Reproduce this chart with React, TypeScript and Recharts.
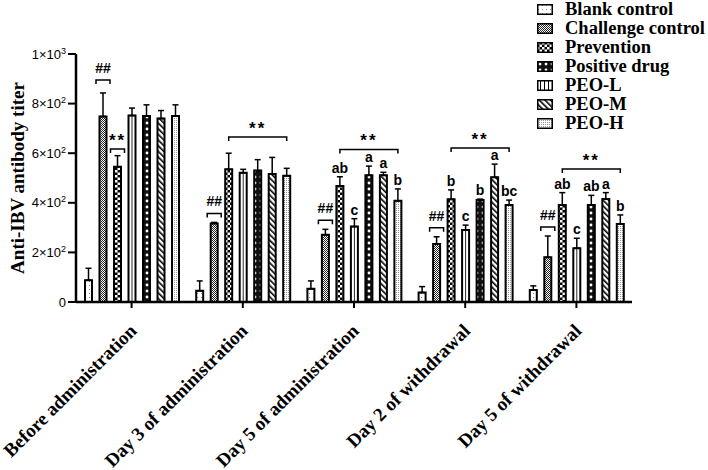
import { BarChart, Bar, XAxis, YAxis, ErrorBar, LabelList } from "recharts"

const CATEGORIES = [
  "Before administration",
  "Day 3 of administration",
  "Day 5 of administration",
  "Day 2 of withdrawal",
  "Day 5 of withdrawal",
]

// mean titers
const BLANK = [88, 45, 53, 38, 48]
const CHALLENGE = [748, 317, 271, 234, 180]
const PREVENTION = [545, 535, 468, 414, 391]
const POSITIVE = [750, 530, 511, 411, 391]
const PEO_L = [752, 521, 304, 290, 217]
const PEO_M = [740, 516, 511, 503, 415]
const PEO_H = [750, 509, 408, 391, 315]

// upper whiskers (SD)
const BLANK_SD = [48, 40, 32, 24, 17]
const CHALLENGE_SD = [95, 4, 22, 29, 86]
const PREVENTION_SD = [45, 65, 37, 38, 50]
const POSITIVE_SD = [45, 44, 37, 4, 39]
const PEO_L_SD = [30, 14, 32, 20, 40]
const PEO_M_SD = [32, 67, 12, 53, 26]
const PEO_H_SD = [45, 30, 48, 20, 36]

// letters of the multiple comparison
const PREVENTION_LETTERS = ["", "", "ab", "b", "ab"]
const POSITIVE_LETTERS = ["", "", "a", "b", "ab"]
const PEO_L_LETTERS = ["", "", "c", "c", "c"]
const PEO_M_LETTERS = ["", "", "a", "a", "a"]
const PEO_H_LETTERS = ["", "", "b", "bc", "b"]
const NO_LETTERS = ["", "", "", "", ""]

// height (titer) of the ** brackets
const STAR_LEVEL = [617, 665, 615, 621, 536]

const Y_TICKS = [0, 200, 400, 600, 800, 1000]
const Y_TICK_LABELS = ["0", "2×10^2", "4×10^2", "6×10^2", "8×10^2", "1×10^3"]

const SERIF = "'Times New Roman', 'Liberation Serif', serif"
const SANS = "Arial, 'Liberation Sans', sans-serif"

const BAR = 7
const GAP = 7.5
const PITCH = BAR + GAP

type Series = {
  key: string
  name: string
  values: number[]
  sd: number[]
  letters: string[]
  fill: string
  icon: string
}

// order of the bars inside a group
const SERIES: Series[] = [
  { key: "blank", name: "Blank control", values: BLANK, sd: BLANK_SD, letters: NO_LETTERS, fill: "url(#pBlank)", icon: "url(#pBlank)" },
  { key: "challenge", name: "Challenge control", values: CHALLENGE, sd: CHALLENGE_SD, letters: NO_LETTERS, fill: "url(#pChallenge)", icon: "url(#pChallenge)" },
  { key: "prevention", name: "Prevention", values: PREVENTION, sd: PREVENTION_SD, letters: PREVENTION_LETTERS, fill: "url(#pPrevention)", icon: "url(#pPrevention)" },
  { key: "peoL", name: "PEO-L", values: PEO_L, sd: PEO_L_SD, letters: PEO_L_LETTERS, fill: "url(#pPeoL)", icon: "url(#pPeoLLeg)" },
  { key: "positive", name: "Positive drug", values: POSITIVE, sd: POSITIVE_SD, letters: POSITIVE_LETTERS, fill: "url(#pPositive)", icon: "url(#pPositive)" },
  { key: "peoM", name: "PEO-M", values: PEO_M, sd: PEO_M_SD, letters: PEO_M_LETTERS, fill: "url(#pPeoM)", icon: "url(#pPeoM)" },
  { key: "peoH", name: "PEO-H", values: PEO_H, sd: PEO_H_SD, letters: PEO_H_LETTERS, fill: "url(#pPeoH)", icon: "url(#pPeoH)" },
]

const LEGEND_ORDER = ["blank", "challenge", "prevention", "positive", "peoL", "peoM", "peoH"]

const data = CATEGORIES.map((name, i) => {
  const row: Record<string, any> = { name }
  SERIES.forEach((s) => {
    row[s.key] = s.values[i]
    row[s.key + "Err"] = [0, s.sd[i]]
  })
  return row
})

function geom(p: any, s: Series, i: number) {
  const vb = p.viewBox || p
  const top = Math.min(vb.y, vb.y + vb.height)
  const h = Math.abs(vb.height)
  const k = h / s.values[i]
  return { x: vb.x, w: vb.width, cx: vb.x + vb.width / 2, top, base: top + h, k, errTop: top - s.sd[i] * k }
}

const letterLabel = (s: Series) => (p: any) => {
  const i = p.index
  const t = s.letters[i]
  if (!t) return null
  const g = geom(p, s, i)
  return (
    <text x={g.cx} y={g.errTop - 4} textAnchor="middle" fontFamily={SANS} fontWeight={700} fontSize={14} fill="#000">
      {t}
    </text>
  )
}

const bracket = (x1: number, x2: number, y: number) => (
  <path d={`M${x1},${y + 4}V${y}H${x2}V${y + 4}`} stroke="#000" strokeWidth={1.5} fill="none" />
)

const hashLabel = (s: Series) => (p: any) => {
  const i = p.index
  const g = geom(p, s, i)
  const by = g.errTop - (i === 0 ? 13 : 9)
  return (
    <g>
      {bracket(g.x - 3.5, g.x + g.w + 3.5, by)}
      <text x={g.cx} y={by - 7} textAnchor="middle" fontFamily={SANS} fontWeight={700} fontSize={14}>##</text>
    </g>
  )
}

// ** over prevention alone in the first group, over prevention..PEO-H afterwards
const starLabel = (s: Series, wide: boolean) => (p: any) => {
  const i = p.index
  if (wide !== i > 0) return null
  const g = geom(p, s, i)
  const by = g.base - STAR_LEVEL[i] * g.k
  const x1 = wide ? g.cx - 2 * PITCH : g.x - 3.5
  const x2 = wide ? g.cx + 2 * PITCH : g.x + g.w + 3.5
  return (
    <g>
      {bracket(x1, x2, by)}
      <text x={(x1 + x2) / 2} y={by - 3} textAnchor="middle" fontFamily={SANS} fontWeight={700} fontSize={17} letterSpacing={2}>**</text>
    </g>
  )
}

const YTick = ({ x, y, payload }: any) => {
  const idx = Y_TICKS.indexOf(payload.value)
  const [m, e] = Y_TICK_LABELS[idx].split("^")
  return (
    <text x={x} y={y + 4.5} textAnchor="end" fontFamily={SANS} fontSize={13} fill="#000">
      <tspan>{m}</tspan>
      {e && (
        <tspan dy={-5} fontSize={9}>
          {e}
        </tspan>
      )}
    </text>
  )
}

const XTick = ({ x, y, payload }: any) => {
  const ax = x + 6
  const ay = y + 22
  return (
    <text x={ax} y={ay} textAnchor="end" transform={`rotate(-45, ${ax}, ${ay})`} fontFamily={SERIF} fontWeight={700} fontSize={19} fill="#000">
      {payload.value}
    </text>
  )
}

const Patterns = () => (
  <defs>
    <pattern id="pBlank" patternUnits="userSpaceOnUse" width={4} height={4}>
      <rect width={4} height={4} fill="#fff" />
      <rect x={1} y={1} width={1} height={1} fill="#888" />
    </pattern>
    <pattern id="pChallenge" patternUnits="userSpaceOnUse" width={2} height={2}>
      <rect width={2} height={2} fill="#fff" />
      <rect x={0} y={0} width={1} height={1} fill="#222" />
      <rect x={1} y={1} width={1} height={1} fill="#222" />
    </pattern>
    <pattern id="pPrevention" patternUnits="userSpaceOnUse" width={5} height={5}>
      <rect width={5} height={5} fill="#000" />
      <rect x={0} y={0} width={2.5} height={2.5} fill="#fff" />
      <rect x={2.5} y={2.5} width={2.5} height={2.5} fill="#fff" />
    </pattern>
    <pattern id="pPositive" patternUnits="userSpaceOnUse" width={6} height={6}>
      <rect width={6} height={6} fill="#111" />
      <circle cx={3} cy={3} r={1.4} fill="#fff" />
    </pattern>
    <pattern id="pPeoL" patternUnits="objectBoundingBox" patternContentUnits="objectBoundingBox" width={1} height={1}>
      <rect width={1} height={1} fill="#fff" />
      <rect x={0.44} y={0} width={0.12} height={1} fill="#000" />
    </pattern>
    <pattern id="pPeoLLeg" patternUnits="userSpaceOnUse" width={4} height={4}>
      <rect width={4} height={4} fill="#fff" />
      <rect x={3} y={0} width={1.3} height={4} fill="#000" />
    </pattern>
    <pattern id="pPeoM" patternUnits="userSpaceOnUse" width={4} height={4} patternTransform="rotate(-45)">
      <rect width={4} height={4} fill="#fff" />
      <rect x={0} y={0} width={1.6} height={4} fill="#000" />
    </pattern>
    <pattern id="pPeoH" patternUnits="userSpaceOnUse" width={2} height={2}>
      <rect width={2} height={2} fill="#fff" />
      <rect x={0} y={0} width={1} height={1} fill="#999" />
    </pattern>
  </defs>
)

const ChartLegend = () => (
  <div style={{ position: "absolute", left: 537, top: 0 }}>
    {LEGEND_ORDER.map((k) => {
      const s = SERIES.find((d) => d.key === k)!
      return (
        <div key={k} style={{ display: "flex", alignItems: "center", height: 19 }}>
          <svg width={16} height={11} style={{ display: "block" }}>
            <rect x={0.75} y={0.75} width={14.5} height={9.5} fill={s.icon} stroke="#000" strokeWidth={1.5} />
          </svg>
          <span style={{ marginLeft: 12, fontFamily: SERIF, fontWeight: 700, fontSize: 18.5, lineHeight: "19px", whiteSpace: "nowrap" }}>
            {s.name}
          </span>
        </div>
      )
    })}
  </div>
)

export default function App() {
  return (
    <div style={{ position: "absolute", left: 0, top: 0, width: 708, height: 470, background: "#fff" }}>
      <BarChart
        width={708}
        height={470}
        data={data}
        margin={{ top: 54, right: 76, bottom: 0, left: 0 }}
        barSize={BAR}
        barGap={GAP}
      >
        <Patterns />
        <XAxis
          dataKey="name"
          interval={0}
          height={168}
          tickSize={6}
          tick={<XTick />}
          axisLine={{ stroke: "#000", strokeWidth: 2.5 }}
          tickLine={{ stroke: "#000", strokeWidth: 2 }}
        />
        <YAxis
          width={76}
          domain={[0, 1000]}
          ticks={Y_TICKS}
          tickSize={8}
          tick={<YTick />}
          axisLine={{ stroke: "#000", strokeWidth: 2.5 }}
          tickLine={{ stroke: "#000", strokeWidth: 2 }}
          label={{
            value: "Anti-IBV antibody titer",
            angle: -90,
            position: "insideLeft",
            dx: 12,
            style: { fontFamily: SERIF, fontWeight: 700, fontSize: 19, fill: "#000", textAnchor: "middle" },
          }}
        />
        {SERIES.map((s) => (
          <Bar key={s.key} dataKey={s.key} name={s.name} fill={s.fill} stroke="#000" strokeWidth={2} isAnimationActive={false}>
            <ErrorBar dataKey={s.key + "Err"} width={3} stroke="#000" strokeWidth={1.5} direction="y" />
            <LabelList content={letterLabel(s)} />
            {s.key === "challenge" && <LabelList content={hashLabel(s)} />}
            {s.key === "prevention" && <LabelList content={starLabel(s, false)} />}
            {s.key === "positive" && <LabelList content={starLabel(s, true)} />}
          </Bar>
        ))}
      </BarChart>
      <ChartLegend />
    </div>
  )
}
